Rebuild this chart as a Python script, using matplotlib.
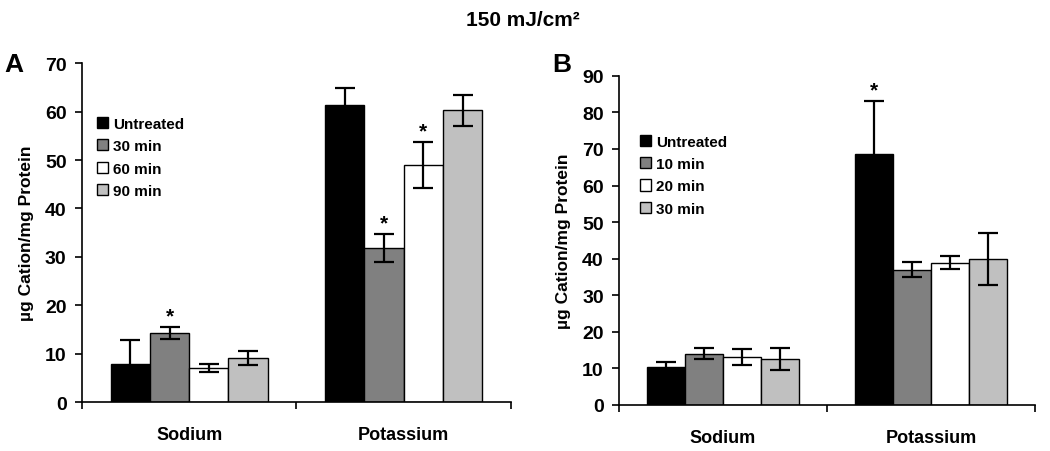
import numpy as np
import matplotlib.pyplot as plt
from matplotlib.ticker import FixedLocator

plt.rcParams['font.family'] = ['Liberation Sans', 'DejaVu Sans']
plt.rcParams['font.weight'] = 'bold'

categories = ['Sodium', 'Potassium']
colors = ['black', '#808080', 'white', '#c0c0c0']

# panel A
labels_a = ['Untreated', '30 min', '60 min', '90 min']
means_a = [[7.9, 61.4], [14.3, 31.8], [7.0, 49.0], [9.1, 60.3]]
errs_a = [[5.0, 3.5], [1.2, 2.9], [0.85, 4.7], [1.5, 3.2]]
stars_a = [[False, False], [True, True], [False, True], [False, False]]

# panel B
labels_b = ['Untreated', '10 min', '20 min', '30 min']
means_b = [[10.3, 68.5], [14.0, 37.0], [13.1, 38.9], [12.5, 39.9]]
errs_b = [[1.3, 14.6], [1.5, 2.0], [2.3, 1.8], [3.0, 7.0]]
stars_b = [[False, True], [False, False], [False, False], [False, False]]


def draw_panel(ax, labels, means, errs, stars, ymax, letter, leg_pos, letter_pos):
    x = np.arange(len(categories))
    w = 0.183
    for i in range(len(labels)):
        pos = x + (i - 1.5) * w
        ax.bar(pos, means[i], w, color=colors[i], edgecolor='black',
               linewidth=1.0, label=labels[i], zorder=2)
        ax.errorbar(pos, means[i], yerr=errs[i], fmt='none', ecolor='black',
                    elinewidth=1.6, capsize=7, capthick=1.6, zorder=3)
        for j in range(len(categories)):
            if stars[i][j]:
                ax.text(pos[j], means[i][j] + errs[i][j] + ymax * 0.005, '*',
                        ha='center', va='bottom', fontsize=15, fontweight='bold')
    ax.set_xlim(-0.5, len(categories) - 0.5)
    ax.set_ylim(0, ymax)
    ax.set_yticks(np.arange(0, ymax + 1, 10))
    ax.set_xticks(x)
    ax.set_xticklabels(categories, fontsize=13, fontweight='bold')
    ax.xaxis.set_minor_locator(FixedLocator([-0.5, 0.5, 1.5]))
    ax.tick_params(axis='x', which='major', length=0, pad=17)
    ax.tick_params(axis='x', which='minor', length=5, width=1.2, direction='out')
    ax.tick_params(axis='y', length=5, width=1.2, labelsize=14, pad=6)
    for lab in ax.get_yticklabels():
        lab.set_fontweight('bold')
    ax.spines['top'].set_visible(False)
    ax.spines['right'].set_visible(False)
    ax.spines['left'].set_linewidth(1.2)
    ax.spines['bottom'].set_linewidth(1.2)
    ax.set_ylabel('\u00b5g Cation/mg Protein', fontsize=12.5, fontweight='bold',
                  labelpad=8)
    ax.legend(loc='upper left', bbox_to_anchor=leg_pos, frameon=False,
              handlelength=0.75, handleheight=0.75, handletextpad=0.3,
              labelspacing=0.55, borderaxespad=0, prop={'size': 11, 'weight': 'bold'})
    ax.text(letter_pos[0], letter_pos[1], letter, transform=ax.transAxes,
            fontsize=19, fontweight='bold', ha='left', va='center')


fig = plt.figure(figsize=(10.5, 4.52), dpi=100)
ax_a = fig.add_axes([0.078, 0.108, 0.4087, 0.750])
ax_b = fig.add_axes([0.5895, 0.102, 0.3962, 0.728])

draw_panel(ax_a, labels_a, means_a, errs_a, stars_a, 70, 'A', (0.02, 0.86), (-0.18, 0.997))
draw_panel(ax_b, labels_b, means_b, errs_b, stars_b, 90, 'B', (0.035, 0.84), (-0.16, 1.036))

fig.text(0.498, 0.955, '150 mJ/cm\u00b2', ha='center', va='center',
         fontsize=15, fontweight='bold')

fig.savefig('out.png', dpi=100)
